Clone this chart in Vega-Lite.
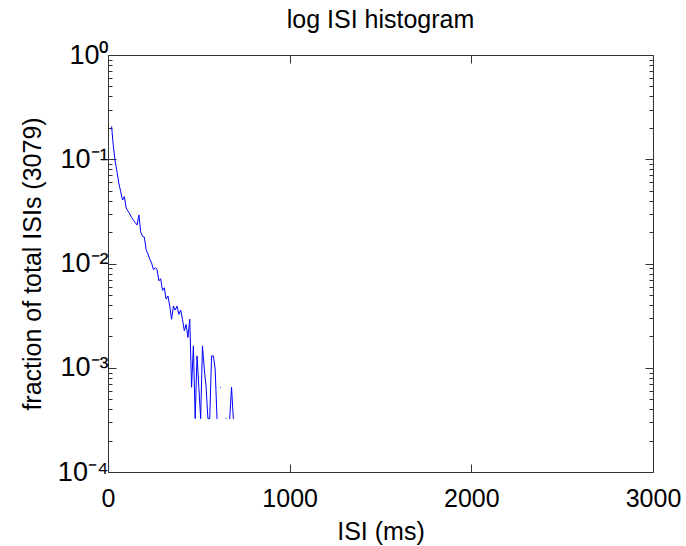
{
  "$schema": "https://vega.github.io/schema/vega-lite/v6.json",
  "autosize": "none",
  "width": 545,
  "height": 417,
  "padding": {"left": 108, "top": 55, "right": 33, "bottom": 74},
  "background": "white",
  "title": {"text": "log ISI histogram", "fontSize": 25, "font": "Liberation Sans", "fontWeight": "normal", "color": "black", "anchor": "middle", "frame": "group", "baseline": "alphabetic", "offset": -12},
  "config": {
    "view": {"stroke": "#333333", "strokeWidth": 1},
    "axis": {"domain": false, "grid": false, "labelFont": "Liberation Sans", "titleFont": "Liberation Sans", "labelFontSize": 25, "titleFontSize": 25, "labelColor": "black", "titleColor": "black", "titleFontWeight": "normal", "tickColor": "#333333", "tickWidth": 1}
  },
  "data": {"values": [
    {"isi": 20, "fraction": 0.2046},
    {"isi": 30, "fraction": 0.1299},
    {"isi": 40, "fraction": 0.0942},
    {"isi": 50, "fraction": 0.0747},
    {"isi": 60, "fraction": 0.0585},
    {"isi": 70, "fraction": 0.0487},
    {"isi": 80, "fraction": 0.0406},
    {"isi": 90, "fraction": 0.0438},
    {"isi": 100, "fraction": 0.0341},
    {"isi": 110, "fraction": 0.0318},
    {"isi": 120, "fraction": 0.0299},
    {"isi": 130, "fraction": 0.0276},
    {"isi": 140, "fraction": 0.0260},
    {"isi": 150, "fraction": 0.0247},
    {"isi": 160, "fraction": 0.0234},
    {"isi": 170, "fraction": 0.0292},
    {"isi": 180, "fraction": 0.0201},
    {"isi": 190, "fraction": 0.0182},
    {"isi": 200, "fraction": 0.0179},
    {"isi": 210, "fraction": 0.0136},
    {"isi": 220, "fraction": 0.0123},
    {"isi": 230, "fraction": 0.0110},
    {"isi": 240, "fraction": 0.0101},
    {"isi": 250, "fraction": 0.00877},
    {"isi": 260, "fraction": 0.00909},
    {"isi": 270, "fraction": 0.00877},
    {"isi": 280, "fraction": 0.00682},
    {"isi": 290, "fraction": 0.00715},
    {"isi": 300, "fraction": 0.00552},
    {"isi": 310, "fraction": 0.00585},
    {"isi": 320, "fraction": 0.00455},
    {"isi": 330, "fraction": 0.00487},
    {"isi": 340, "fraction": 0.00390},
    {"isi": 350, "fraction": 0.00292},
    {"isi": 360, "fraction": 0.00390},
    {"isi": 370, "fraction": 0.00357},
    {"isi": 380, "fraction": 0.00390},
    {"isi": 390, "fraction": 0.00325},
    {"isi": 400, "fraction": 0.00357},
    {"isi": 410, "fraction": 0.00292},
    {"isi": 420, "fraction": 0.00227},
    {"isi": 430, "fraction": 0.00260},
    {"isi": 440, "fraction": 0.00195},
    {"isi": 450, "fraction": 0.00292},
    {"isi": 460, "fraction": 0.00065},
    {"isi": 470, "fraction": 0.00162},
    {"isi": 480, "fraction": 0.000325},
    {"isi": 490, "fraction": 0.00130},
    {"isi": 500, "fraction": 0.00065},
    {"isi": 510, "fraction": 0.000325},
    {"isi": 520, "fraction": 0.00162},
    {"isi": 530, "fraction": 0.000974},
    {"isi": 540, "fraction": 0.00065},
    {"isi": 550, "fraction": 0.000325},
    {"isi": 560, "fraction": 0.000325},
    {"isi": 570, "fraction": 0.00130},
    {"isi": 580, "fraction": 0.00130},
    {"isi": 590, "fraction": 0.000974},
    {"isi": 600, "fraction": 0.000325},
    {"isi": 610, "fraction": null},
    {"isi": 620, "fraction": 0.00065},
    {"isi": 630, "fraction": null},
    {"isi": 640, "fraction": null},
    {"isi": 650, "fraction": 0.000325},
    {"isi": 660, "fraction": null},
    {"isi": 670, "fraction": 0.000325},
    {"isi": 680, "fraction": 0.00065},
    {"isi": 690, "fraction": 0.000325}
  ]},
  "layer": [
    {
      "mark": {"type": "line", "color": "#0000ff", "strokeWidth": 1, "strokeCap": "round", "invalid": "break-paths-filter-domains"},
      "encoding": {
        "x": {"field": "isi", "type": "quantitative", "scale": {"domain": [0, 3000]},
              "axis": {"orient": "bottom", "values": [0, 1000, 2000, 3000], "format": "d", "tickSize": -8, "labelPadding": 22, "labelFlush": false, "title": "ISI (ms)", "titlePadding": 8}},
        "y": {"field": "fraction", "type": "quantitative", "scale": {"type": "log", "domain": [0.0001, 1]},
              "axis": {"orient": "left",
                       "values": [0.0001,0.0002,0.0003,0.0004,0.0005,0.0006,0.0007,0.0008,0.0009,0.001,0.002,0.003,0.004,0.005,0.006,0.007,0.008,0.009,0.01,0.02,0.03,0.04,0.05,0.06,0.07,0.08,0.09,0.1,0.2,0.3,0.4,0.5,0.6,0.7,0.8,0.9,1],
                       "tickSize": {"condition": {"test": "abs(log(datum.value)/LN10 - round(log(datum.value)/LN10)) < 1e-6", "value": -8}, "value": -4},
                       "labelExpr": "abs(datum.value-1)<1e-9 ? '10⁰' : abs(datum.value-0.1)<1e-10 ? '10⁻¹' : abs(datum.value-0.01)<1e-11 ? '10⁻²' : abs(datum.value-0.001)<1e-12 ? '10⁻³' : abs(datum.value-0.0001)<1e-13 ? '10⁻⁴' : ''",
                       "labelPadding": 8, "labelBaseline": "middle", "labelFontSize": 27,
                       "title": "fraction of total ISIs (3079)", "titlePadding": 12}}
      }
    },
    {
      "mark": {"type": "line", "strokeOpacity": 0, "invalid": "break-paths-filter-domains"},
      "encoding": {
        "x": {"field": "isi", "type": "quantitative",
              "axis": {"orient": "top", "values": [0, 1000, 2000, 3000], "tickSize": -8, "labels": false, "title": null}},
        "y": {"field": "fraction", "type": "quantitative",
              "axis": {"orient": "right",
                       "values": [0.0001,0.0002,0.0003,0.0004,0.0005,0.0006,0.0007,0.0008,0.0009,0.001,0.002,0.003,0.004,0.005,0.006,0.007,0.008,0.009,0.01,0.02,0.03,0.04,0.05,0.06,0.07,0.08,0.09,0.1,0.2,0.3,0.4,0.5,0.6,0.7,0.8,0.9,1],
                       "tickSize": {"condition": {"test": "abs(log(datum.value)/LN10 - round(log(datum.value)/LN10)) < 1e-6", "value": -8}, "value": -4},
                       "labels": false, "title": null}}
      }
    }
  ],
  "resolve": {"axis": {"x": "independent", "y": "independent"}}
}
